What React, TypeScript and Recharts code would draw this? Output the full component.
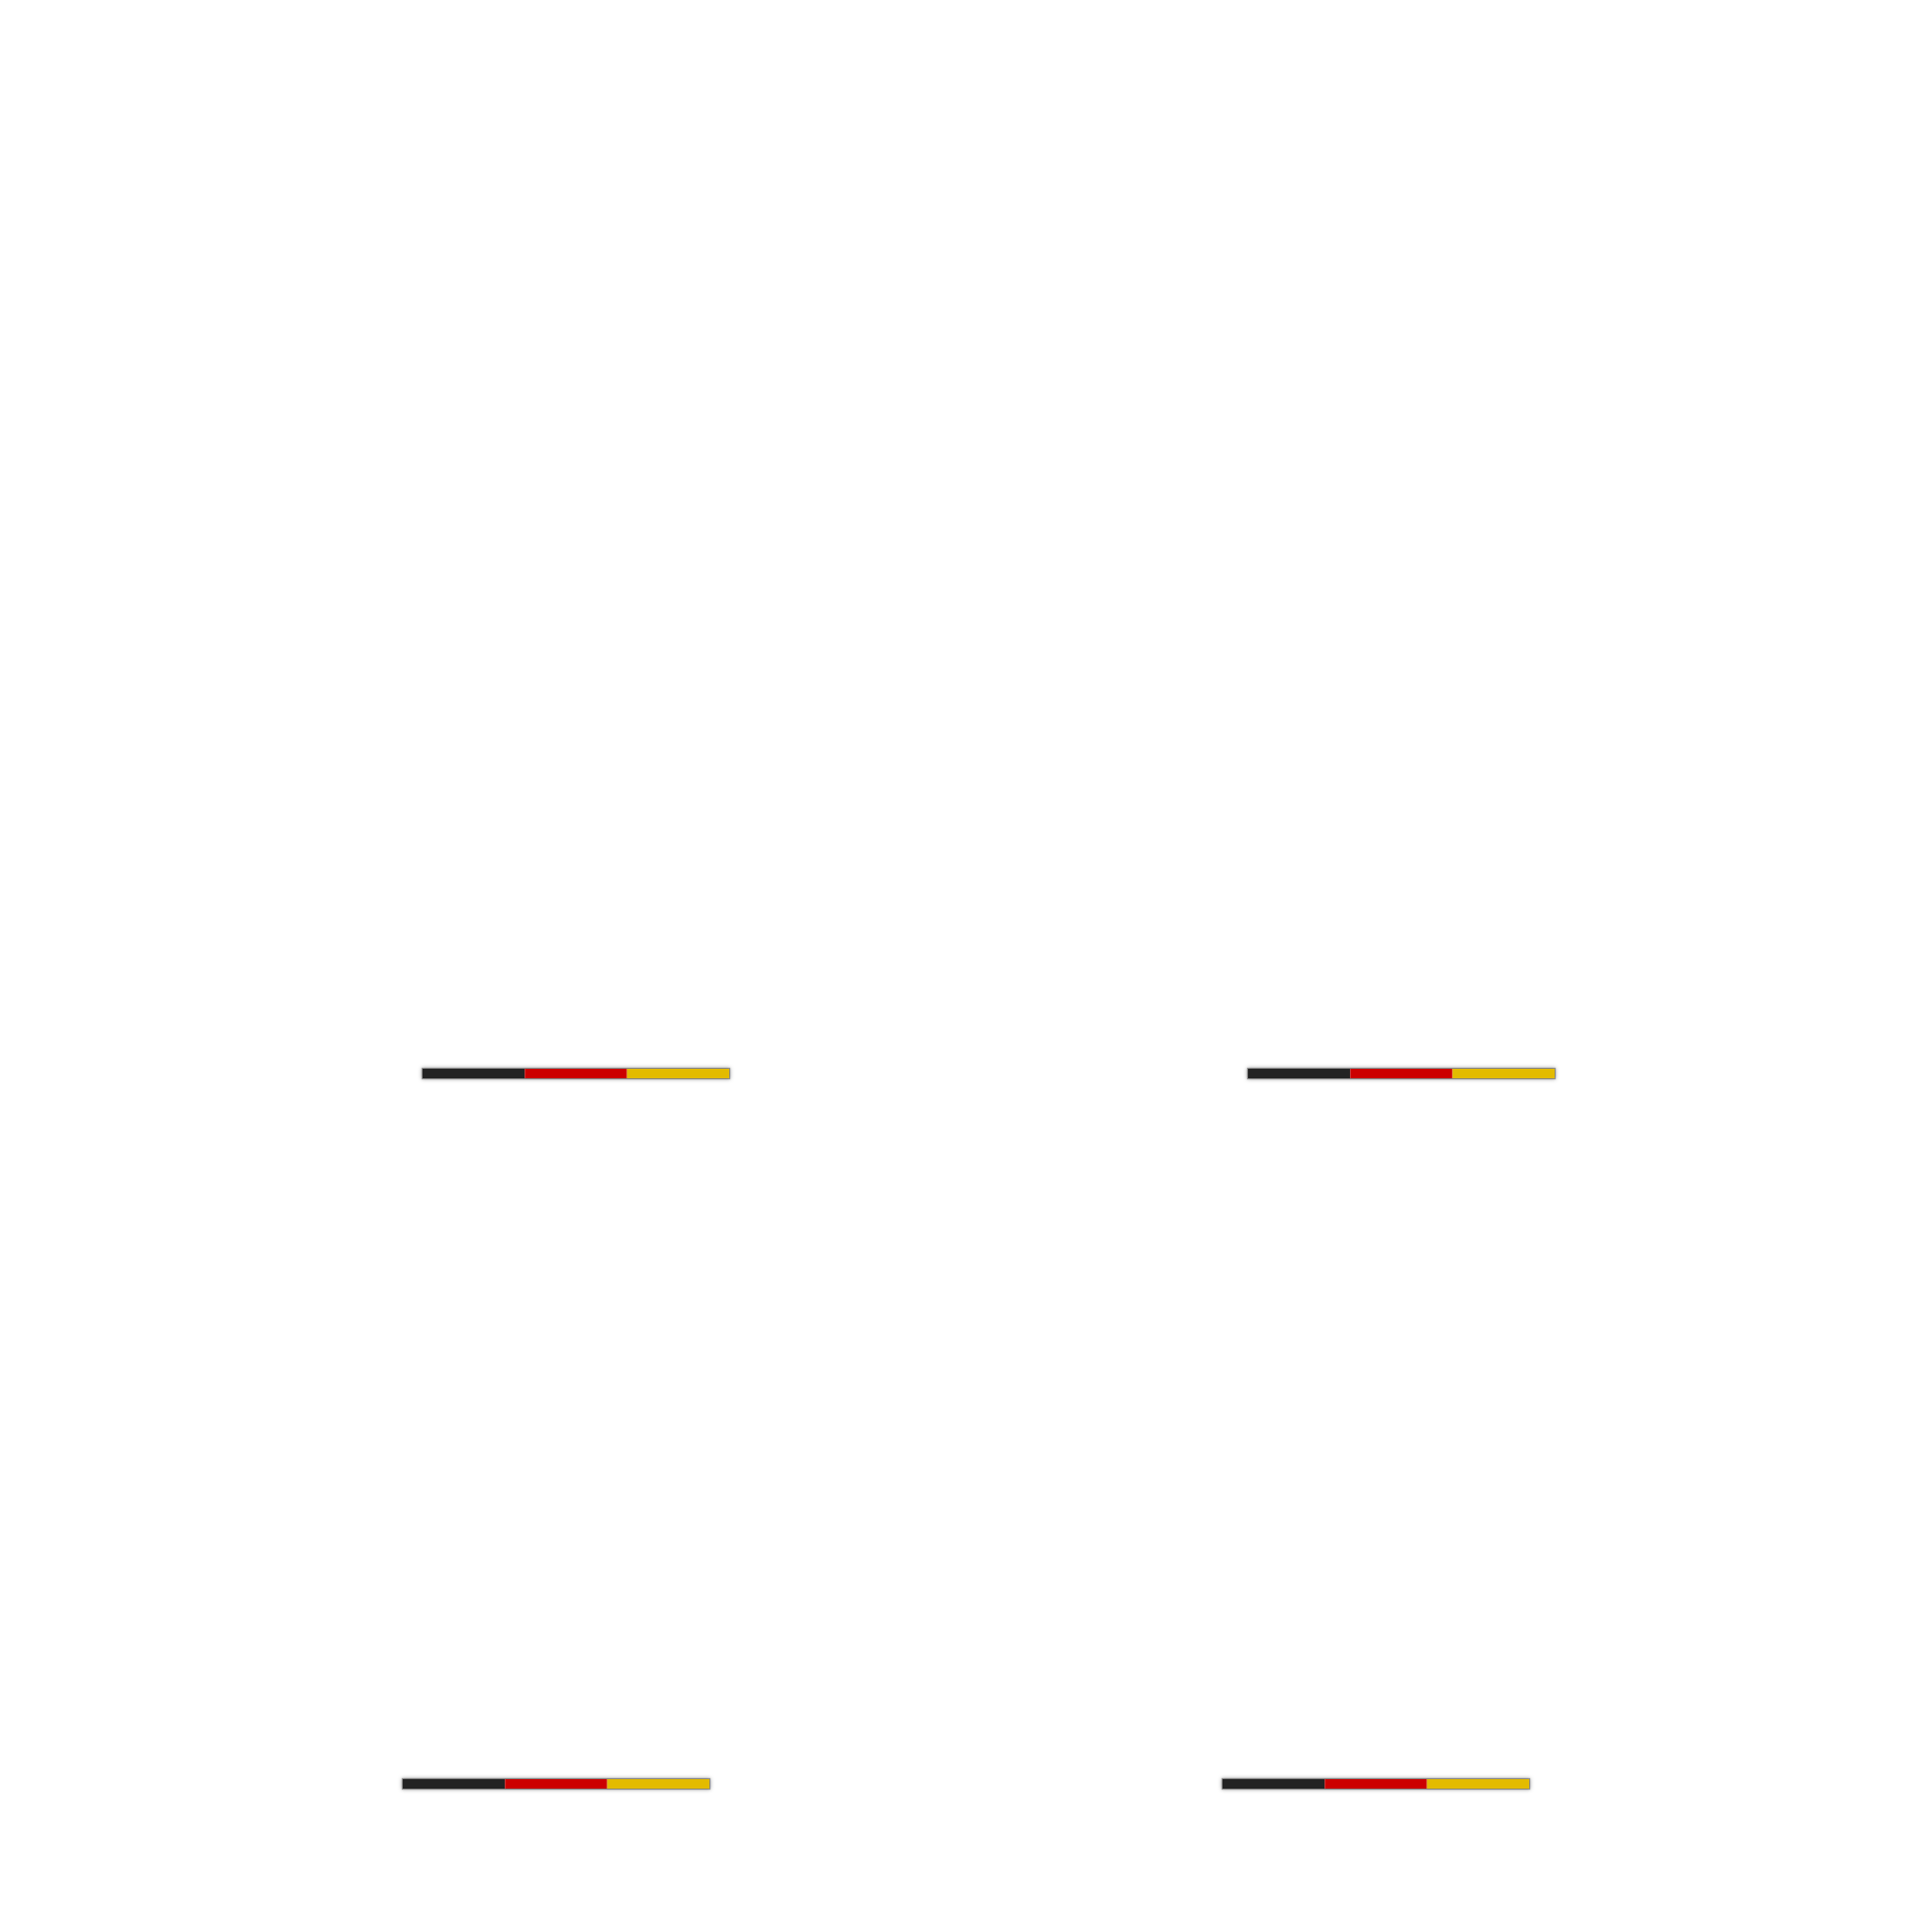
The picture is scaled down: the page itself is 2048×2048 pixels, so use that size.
import React from 'react';
import { BarChart, Bar, XAxis, YAxis } from 'recharts';

const segmentKeys = ['schwarz', 'rot', 'gold'];
const segmentColors = ['#232323', '#cc0000', '#e3bb00'];
const panelNames = ['A', 'B', 'C', 'D'];
const schwarzValues = [1, 1, 1, 1];
const rotValues = [1, 1, 1, 1];
const goldValues = [1, 1, 1, 1];

const panelLayout = [
  { left: 448, top: 1133 },
  { left: 1323, top: 1133 },
  { left: 427, top: 1886 },
  { left: 1296, top: 1886 },
];

const BAR_W = 325;
const BAR_H = 10;

function Panel({ index }: { index: number }) {
  const data = [
    {
      name: panelNames[index],
      schwarz: schwarzValues[index],
      rot: rotValues[index],
      gold: goldValues[index],
    },
  ];
  const pos = panelLayout[index];
  return (
    <div
      style={{
        position: 'absolute',
        left: pos.left,
        top: pos.top,
        width: BAR_W,
        height: BAR_H,
        boxShadow: '0 0 1px 1px rgba(0,0,0,0.35), 0 0 4px 1px rgba(0,0,0,0.35)',
      }}
    >
      <BarChart
        width={BAR_W}
        height={BAR_H}
        layout="vertical"
        data={data}
        margin={{ top: 0, right: 0, bottom: 0, left: 0 }}
        barCategoryGap={0}
        barGap={0}
      >
        <XAxis type="number" hide domain={[0, 3]} />
        <YAxis type="category" dataKey="name" hide width={0} />
        {segmentKeys.map((k, i) => (
          <Bar
            key={k}
            dataKey={k}
            stackId="flag"
            fill={segmentColors[i]}
            isAnimationActive={false}
          />
        ))}
      </BarChart>
    </div>
  );
}

export default function App() {
  return (
    <div
      style={{
        position: 'absolute',
        left: 0,
        top: 0,
        width: 2048,
        height: 2048,
        background: '#ffffff',
      }}
    >
      {panelNames.map((_, i) => (
        <Panel key={i} index={i} />
      ))}
    </div>
  );
}
